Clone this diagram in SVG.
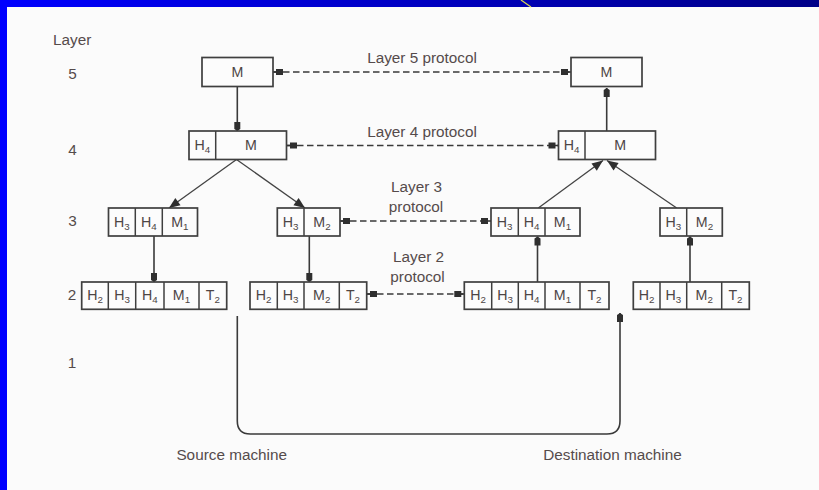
<svg xmlns="http://www.w3.org/2000/svg" width="819" height="490" viewBox="0 0 819 490">
  <style>
    .lbl { font-family: "Liberation Sans", Arial, sans-serif; font-size: 15.3px; fill: #554b4b; }
    .mid { text-anchor: middle; }
    .cell { font-family: "Liberation Sans", Arial, sans-serif; font-size: 14.2px; fill: #4d4545; text-anchor: middle; }
    .sub { font-size: 9.8px; }
    .box { fill: #fcfcfc; stroke: #3f3f3f; stroke-width: 1.7; }
    .div { stroke: #3f3f3f; stroke-width: 1.5; }
    .line { fill: none; stroke: #3a3a3a; stroke-width: 1.6; }
    .diag { fill: none; stroke: #444; stroke-width: 1.3; }
    .dash { fill: none; stroke: #3a3a3a; stroke-width: 1.5; stroke-dasharray: 6.5 3.5; }
  </style>
  <defs>
    <linearGradient id="topbar" x1="0" y1="0" x2="1" y2="0">
      <stop offset="0" stop-color="#0000ff"/>
      <stop offset="1" stop-color="#000088"/>
    </linearGradient>
    <!-- small block head with a short stub, used on the peer-protocol lines -->
    <marker id="sq" markerUnits="userSpaceOnUse" viewBox="-12 -5 13 10" refX="0" refY="0" markerWidth="13" markerHeight="10" orient="auto-start-reverse" overflow="visible">
      <path d="M0,-0.8 H-3 V-3 H-10 V3 H-3 V0.8 H0 Z" fill="#2f2f2f"/>
    </marker>
    <!-- blunt head on vertical layer-to-layer arrows -->
    <marker id="blk" markerUnits="userSpaceOnUse" viewBox="-12 -5 13 10" refX="0" refY="0" markerWidth="13" markerHeight="10" orient="auto" overflow="visible">
      <path d="M0,0 L-2,-3 L-9,-3 L-9,3 L-2,3 Z" fill="#2f2f2f"/>
    </marker>
    <!-- triangular head on the diagonal split/merge arrows -->
    <marker id="tri" markerUnits="userSpaceOnUse" viewBox="-13 -6 14 12" refX="0" refY="0" markerWidth="14" markerHeight="12" orient="auto" overflow="visible">
      <path d="M0,0 L-11,-4.5 L-11,4.5 Z" fill="#2f2f2f"/>
    </marker>
  </defs>

  <!-- slide frame -->
  <rect x="0" y="0" width="819" height="490" fill="#fbfbfb"/>
  <rect x="0" y="0" width="819" height="7" fill="url(#topbar)"/>
  <rect x="0" y="0" width="7" height="490" fill="#0000ff"/>
  <line x1="521" y1="0" x2="531" y2="7" stroke="#d8d850" stroke-width="1.2"/>

  <!-- layer numbering -->
  <g id="layer-axis">
    <text class="lbl" x="53" y="45">Layer</text>
    <text class="lbl mid" x="72.5" y="78.5">5</text>
    <text class="lbl mid" x="72.5" y="155">4</text>
    <text class="lbl mid" x="72.5" y="226">3</text>
    <text class="lbl mid" x="72" y="300">2</text>
    <text class="lbl mid" x="72" y="368">1</text>
  </g>

  <!-- connectors -->
  <g id="connectors">
    <!-- peer protocols -->
    <line class="dash" x1="273" y1="72" x2="571" y2="72" marker-start="url(#sq)" marker-end="url(#sq)"/>
    <line class="dash" x1="287" y1="145.5" x2="558.5" y2="145.5" marker-start="url(#sq)" marker-end="url(#sq)"/>
    <line class="dash" x1="340" y1="221" x2="491" y2="221" marker-start="url(#sq)" marker-end="url(#sq)"/>
    <line class="dash" x1="367" y1="294" x2="464.3" y2="294" marker-start="url(#sq)" marker-end="url(#sq)"/>

    <!-- source machine, downward -->
    <line class="line" x1="237.3" y1="86.5" x2="237.3" y2="131" marker-end="url(#blk)"/>
    <line class="diag" x1="236.5" y1="159.5" x2="169" y2="208" marker-end="url(#tri)"/>
    <line class="diag" x1="236.5" y1="159.5" x2="305" y2="208" marker-end="url(#tri)"/>
    <line class="line" x1="154" y1="236" x2="154" y2="282" marker-end="url(#blk)"/>
    <line class="line" x1="309.3" y1="236" x2="309.3" y2="282" marker-end="url(#blk)"/>

    <!-- physical medium -->
    <path class="line" d="M237.3,316 V421 Q237.3,434 250.3,434 H607 Q620,434 620,421 V313" marker-end="url(#blk)"/>

    <!-- destination machine, upward -->
    <line class="line" x1="537.5" y1="282" x2="537.5" y2="236.5" marker-end="url(#blk)"/>
    <line class="line" x1="690" y1="282" x2="690" y2="236.5" marker-end="url(#blk)"/>
    <line class="diag" x1="538.3" y1="208" x2="603" y2="160.5" marker-end="url(#tri)"/>
    <line class="diag" x1="676.7" y1="208" x2="607" y2="160.5" marker-end="url(#tri)"/>
    <line class="line" x1="606.7" y1="131" x2="606.7" y2="88" marker-end="url(#blk)"/>
  </g>

  <!-- protocol labels -->
  <g id="protocol-labels">
    <text class="lbl mid" x="422" y="63">Layer 5 protocol</text>
    <text class="lbl mid" x="422" y="137">Layer 4 protocol</text>
    <text class="lbl mid" x="416.5" y="191.5">Layer 3</text>
    <text class="lbl mid" x="416" y="211.5">protocol</text>
    <text class="lbl mid" x="418.5" y="261.5">Layer 2</text>
    <text class="lbl mid" x="417.5" y="281.5">protocol</text>
  </g>

  <!-- source machine nodes -->
  <g id="src-l5">
    <rect class="box" x="202" y="57.5" width="71" height="29"/>
    <text class="cell" x="237.5" y="77">M</text>
  </g>
  <g id="src-l4">
    <rect class="box" x="189" y="131" width="97.5" height="28.5"/>
    <line class="div" x1="215.7" y1="131" x2="215.7" y2="159.5"/>
    <text class="cell" x="202.3" y="150.3">H<tspan class="sub" dy="3">4</tspan></text>
    <text class="cell" x="251" y="150.3">M</text>
  </g>
  <g id="src-l3-a">
    <rect class="box" x="108.5" y="208" width="89" height="28"/>
    <line class="div" x1="135.3" y1="208" x2="135.3" y2="236"/>
    <line class="div" x1="162.3" y1="208" x2="162.3" y2="236"/>
    <text class="cell" x="121.9" y="226.8">H<tspan class="sub" dy="3">3</tspan></text>
    <text class="cell" x="148.8" y="226.8">H<tspan class="sub" dy="3">4</tspan></text>
    <text class="cell" x="179.9" y="226.8">M<tspan class="sub" dy="3">1</tspan></text>
  </g>
  <g id="src-l3-b">
    <rect class="box" x="277.3" y="208" width="62.7" height="28"/>
    <line class="div" x1="304" y1="208" x2="304" y2="236"/>
    <text class="cell" x="290.7" y="226.8">H<tspan class="sub" dy="3">3</tspan></text>
    <text class="cell" x="322" y="226.8">M<tspan class="sub" dy="3">2</tspan></text>
  </g>
  <g id="src-l2-a">
    <rect class="box" x="81.7" y="282" width="145" height="27.3"/>
    <line class="div" x1="108.3" y1="282" x2="108.3" y2="309.3"/>
    <line class="div" x1="135.7" y1="282" x2="135.7" y2="309.3"/>
    <line class="div" x1="164" y1="282" x2="164" y2="309.3"/>
    <line class="div" x1="199" y1="282" x2="199" y2="309.3"/>
    <text class="cell" x="95" y="300.3">H<tspan class="sub" dy="3">2</tspan></text>
    <text class="cell" x="122" y="300.3">H<tspan class="sub" dy="3">3</tspan></text>
    <text class="cell" x="149.8" y="300.3">H<tspan class="sub" dy="3">4</tspan></text>
    <text class="cell" x="181.5" y="300.3">M<tspan class="sub" dy="3">1</tspan></text>
    <text class="cell" x="212.8" y="300.3">T<tspan class="sub" dy="3">2</tspan></text>
  </g>
  <g id="src-l2-b">
    <rect class="box" x="250" y="282" width="116.7" height="27.3"/>
    <line class="div" x1="277.3" y1="282" x2="277.3" y2="309.3"/>
    <line class="div" x1="304" y1="282" x2="304" y2="309.3"/>
    <line class="div" x1="339.3" y1="282" x2="339.3" y2="309.3"/>
    <text class="cell" x="263.7" y="300.3">H<tspan class="sub" dy="3">2</tspan></text>
    <text class="cell" x="290.7" y="300.3">H<tspan class="sub" dy="3">3</tspan></text>
    <text class="cell" x="321.7" y="300.3">M<tspan class="sub" dy="3">2</tspan></text>
    <text class="cell" x="353" y="300.3">T<tspan class="sub" dy="3">2</tspan></text>
  </g>

  <!-- destination machine nodes -->
  <g id="dst-l5">
    <rect class="box" x="571" y="57.5" width="71" height="29"/>
    <text class="cell" x="606.5" y="77">M</text>
  </g>
  <g id="dst-l4">
    <rect class="box" x="558.5" y="131" width="97" height="28.5"/>
    <line class="div" x1="585" y1="131" x2="585" y2="159.5"/>
    <text class="cell" x="571.7" y="150.3">H<tspan class="sub" dy="3">4</tspan></text>
    <text class="cell" x="620.2" y="150.3">M</text>
  </g>
  <g id="dst-l3-a">
    <rect class="box" x="491" y="208" width="89" height="28"/>
    <line class="div" x1="518.3" y1="208" x2="518.3" y2="236"/>
    <line class="div" x1="545" y1="208" x2="545" y2="236"/>
    <text class="cell" x="504.6" y="226.8">H<tspan class="sub" dy="3">3</tspan></text>
    <text class="cell" x="531.6" y="226.8">H<tspan class="sub" dy="3">4</tspan></text>
    <text class="cell" x="562.5" y="226.8">M<tspan class="sub" dy="3">1</tspan></text>
  </g>
  <g id="dst-l3-b">
    <rect class="box" x="660" y="208" width="62.3" height="28"/>
    <line class="div" x1="686.7" y1="208" x2="686.7" y2="236"/>
    <text class="cell" x="673.3" y="226.8">H<tspan class="sub" dy="3">3</tspan></text>
    <text class="cell" x="704.5" y="226.8">M<tspan class="sub" dy="3">2</tspan></text>
  </g>
  <g id="dst-l2-a">
    <rect class="box" x="464.3" y="282" width="144.7" height="27.3"/>
    <line class="div" x1="491.7" y1="282" x2="491.7" y2="309.3"/>
    <line class="div" x1="518.3" y1="282" x2="518.3" y2="309.3"/>
    <line class="div" x1="545" y1="282" x2="545" y2="309.3"/>
    <line class="div" x1="580" y1="282" x2="580" y2="309.3"/>
    <text class="cell" x="478" y="300.3">H<tspan class="sub" dy="3">2</tspan></text>
    <text class="cell" x="505" y="300.3">H<tspan class="sub" dy="3">3</tspan></text>
    <text class="cell" x="531.7" y="300.3">H<tspan class="sub" dy="3">4</tspan></text>
    <text class="cell" x="562.5" y="300.3">M<tspan class="sub" dy="3">1</tspan></text>
    <text class="cell" x="594.5" y="300.3">T<tspan class="sub" dy="3">2</tspan></text>
  </g>
  <g id="dst-l2-b">
    <rect class="box" x="633.3" y="282" width="116" height="27.3"/>
    <line class="div" x1="660" y1="282" x2="660" y2="309.3"/>
    <line class="div" x1="686.7" y1="282" x2="686.7" y2="309.3"/>
    <line class="div" x1="721.7" y1="282" x2="721.7" y2="309.3"/>
    <text class="cell" x="646.7" y="300.3">H<tspan class="sub" dy="3">2</tspan></text>
    <text class="cell" x="673.3" y="300.3">H<tspan class="sub" dy="3">3</tspan></text>
    <text class="cell" x="704.2" y="300.3">M<tspan class="sub" dy="3">2</tspan></text>
    <text class="cell" x="735.5" y="300.3">T<tspan class="sub" dy="3">2</tspan></text>
  </g>

  <!-- machine captions -->
  <g id="captions">
    <text class="lbl mid" x="231.7" y="460">Source machine</text>
    <text class="lbl mid" x="612.5" y="460">Destination machine</text>
  </g>
</svg>
